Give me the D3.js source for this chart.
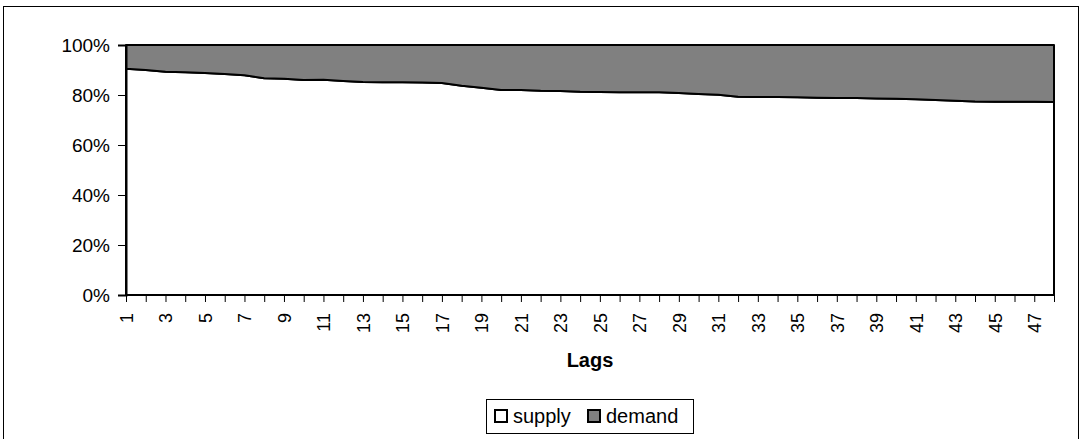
<!DOCTYPE html>
<html><head><meta charset="utf-8">
<script src="https://cdn.jsdelivr.net/npm/d3@7/dist/d3.min.js"></script>
<style>body{margin:0;background:#fff}svg{display:block;font-family:"Liberation Sans",Arial,sans-serif}</style>
</head><body><svg id="c" width="1082" height="439"></svg>
<script>
const lags = d3.range(1, 49);
const supply = [90.5,90.0,89.3,89.1,88.8,88.4,87.9,86.7,86.5,86.0,86.1,85.6,85.2,85.1,85.1,85.0,84.8,83.7,82.9,82.0,82.0,81.7,81.6,81.3,81.2,81.1,81.1,81.1,80.8,80.4,80.1,79.3,79.2,79.2,79.1,78.9,78.8,78.8,78.6,78.5,78.3,78.0,77.7,77.4,77.3,77.3,77.3,77.2];
const demand = supply.map(v => 100 - v);
const yTicks = [0,20,40,60,80,100];
const seriesNames = ["supply","demand"];
const seriesColors = ["#ffffff","#808080"];

const svg = d3.select("#c");
const L = 126, R = 1054, T = 45, B = 295;
const x = d3.scalePoint().domain(lags).range([L, R]);
const y = d3.scaleLinear().domain([0,100]).range([B, T]);

svg.append("rect").attr("x",3.5).attr("y",6.5).attr("width",1075).attr("height",440)
  .attr("fill","none").attr("stroke","#000").attr("stroke-width",1);

const rows = lags.map((l,i)=>({l, s:supply[i], d:demand[i]}));
const areaS = d3.area().x(d=>x(d.l)).y0(y(0)).y1(d=>y(d.s));
const areaD = d3.area().x(d=>x(d.l)).y0(d=>y(d.s)).y1(d=>y(d.s+d.d));
svg.append("path").datum(rows).attr("d",areaS).attr("fill",seriesColors[0]).attr("stroke","#000").attr("stroke-width",2).attr("stroke-linejoin","round");
svg.append("path").datum(rows).attr("d",areaD).attr("fill",seriesColors[1]).attr("stroke","#000").attr("stroke-width",2).attr("stroke-linejoin","round");

const ya = svg.append("g").attr("transform",`translate(${L},0)`)
  .call(d3.axisLeft(y).tickValues(yTicks).tickFormat(d=>d+"%").tickSize(8).tickPadding(8));
ya.select(".domain").attr("stroke","#000").attr("stroke-width",2);
ya.selectAll(".tick line").attr("stroke","#000");
ya.selectAll("text").attr("font-size",19).attr("fill","#000").attr("font-family","Liberation Sans, Arial, sans-serif");

const xa = svg.append("g").attr("transform",`translate(0,${B})`)
  .call(d3.axisBottom(x).tickSize(7).tickFormat(d => d % 2 === 1 ? d : ""));
xa.select(".domain").attr("stroke","#000").attr("stroke-width",2).attr("d",`M${L},0H${R}`);
xa.selectAll(".tick line").attr("stroke","#000");
xa.selectAll("text").attr("font-size",18).attr("fill","#000").attr("font-family","Liberation Sans, Arial, sans-serif")
  .attr("transform","rotate(-90)").attr("text-anchor","end").attr("x",-18).attr("y",0).attr("dy","0.35em");

svg.append("text").attr("x",(L+R)/2).attr("y",367).attr("text-anchor","middle")
  .attr("font-weight","bold").attr("font-size",20).text("Lags");

const lg = svg.append("g");
lg.append("rect").attr("x",486.5).attr("y",399.5).attr("width",207).attr("height",34).attr("fill","#fff").attr("stroke","#000").attr("stroke-width",1);
const lx = [495, 588];
seriesNames.forEach((n,i)=>{
  lg.append("rect").attr("x",lx[i]).attr("y",410).attr("width",12).attr("height",12)
    .attr("fill",seriesColors[i]).attr("stroke","#000").attr("stroke-width",2);
  lg.append("text").attr("x",lx[i]+18).attr("y",423).attr("font-size",20).text(n);
});
</script></body></html>
